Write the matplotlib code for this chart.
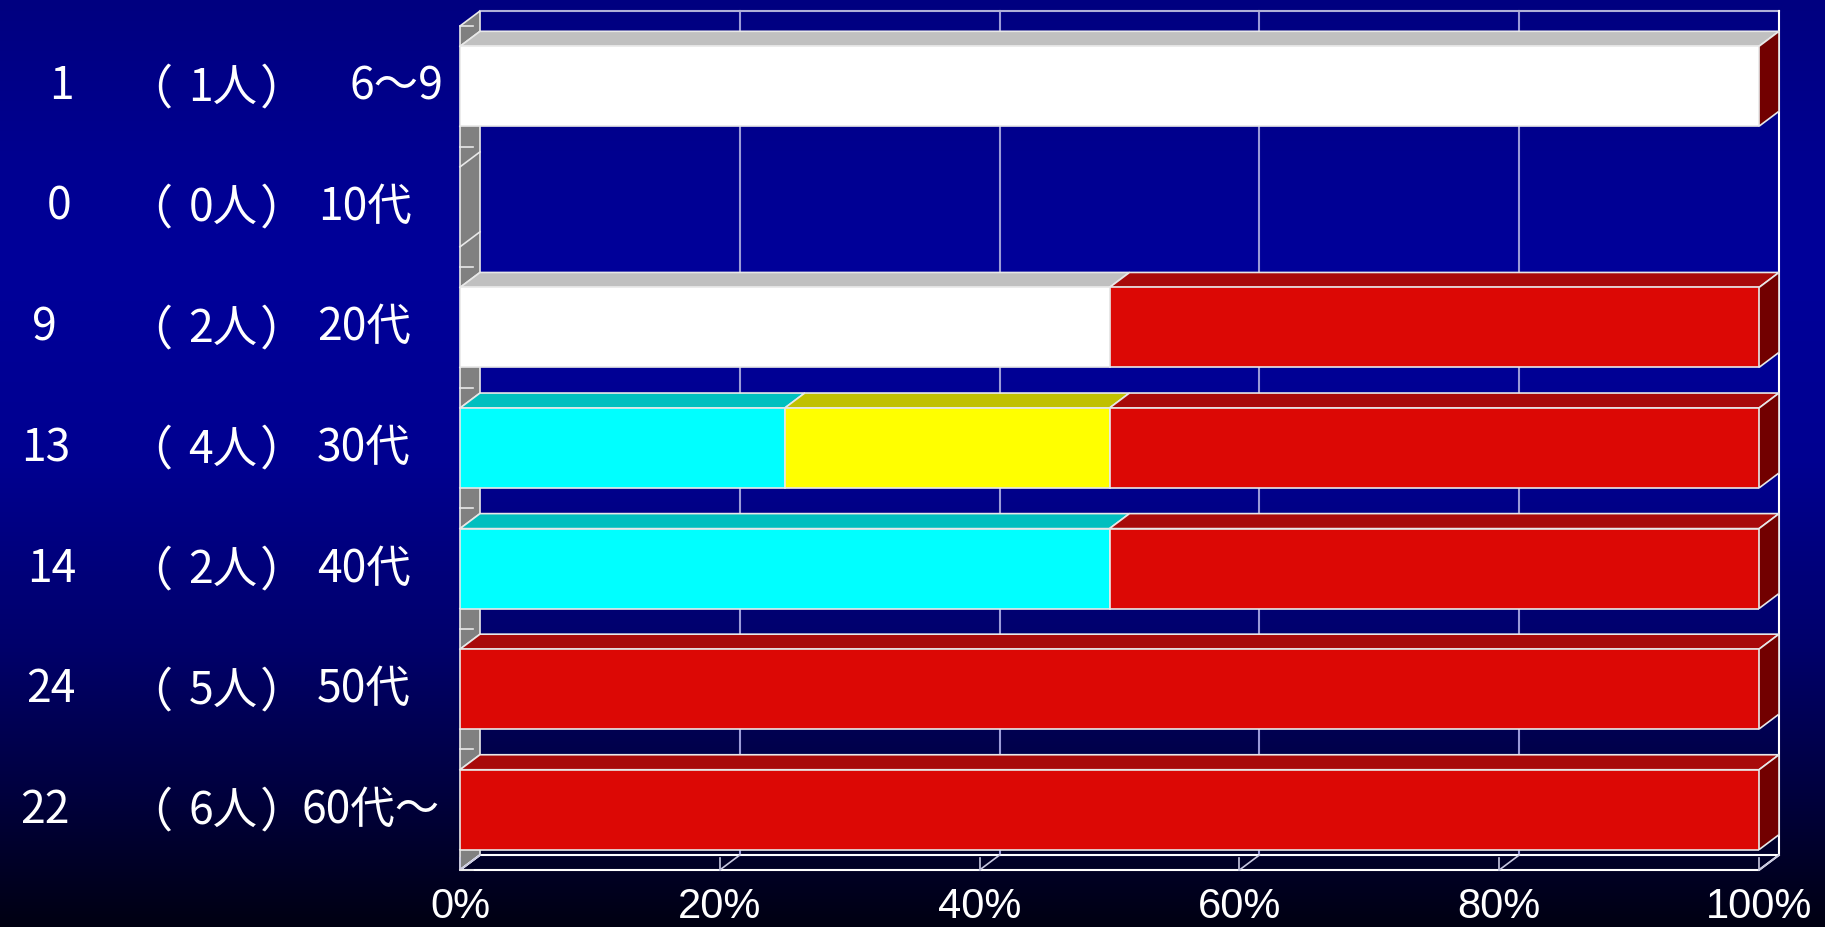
import numpy as np
import matplotlib
matplotlib.use("Agg")
import matplotlib.pyplot as plt
from matplotlib.patches import Polygon
import matplotlib.transforms as mtransforms

# ---------------- data ----------------
ages = ["6〜9", "10代", "20代", "30代", "40代", "50代", "60代〜"]
totals_label = [1, 0, 9, 13, 14, 24, 22]
# persons per answer category (stack order left -> right)
white_n = [1, 0, 1, 0, 0, 0, 0]
cyan_n = [0, 0, 0, 1, 1, 0, 0]
yellow_n = [0, 0, 0, 1, 0, 0, 0]
red_n = [0, 0, 1, 2, 1, 5, 6]
xticks = [0, 20, 40, 60, 80, 100]
xtick_labels = ["0%", "20%", "40%", "60%", "80%", "100%"]

series = [white_n, cyan_n, yellow_n, red_n]
front_cols = ["#FFFFFF", "#00FFFF", "#FFFF00", "#DC0805"]
top_cols = ["#C0C0C0", "#00BFBF", "#C0C000", "#A80A0A"]
side_col = "#720000"

W, H = 1825, 927
fig = plt.figure(figsize=(W / 100, H / 100), dpi=100)

# background gradient
bg = fig.add_axes([0, 0, 1, 1], zorder=-10)
stops_y = [0.0, 0.28, 0.5, 0.7, 0.85, 1.0]
stops_b = [0x80, 0x9A, 0x90, 0x6A, 0x40, 0x12]
yy = np.linspace(0, 1, 400)
b = np.interp(yy, stops_y, stops_b) / 255.0
img = np.zeros((400, 2, 3))
img[:, :, 2] = b[:, None]
bg.imshow(img, aspect="auto", extent=[0, 1, 1, 0], interpolation="bilinear")
bg.set_xlim(0, 1)
bg.set_ylim(1, 0)
bg.axis("off")

# main axes = front plane
x0p, x1p, y0p, y1p = 460, 1759, 26, 870
ax = fig.add_axes([x0p / W, (H - y1p) / H, (x1p - x0p) / W, (y1p - y0p) / H])
ax.patch.set_alpha(0)
n = len(ages)
ax.set_xlim(0, 100)
ax.set_ylim(n - 0.5, -0.5)
DX = 20 / (x1p - x0p) * 100
DY = 15 / (y1p - y0p) * n
BH = 0.663

grid_c = "#9A9AD8"
edge_c = "#E8E8E8"
kw = dict(clip_on=False)

# back wall gridlines
for v in xticks[1:-1]:
    ax.plot([v + DX, v + DX], [-0.5 - DY, n - 0.5 - DY], color=grid_c, lw=1.5, zorder=1, **kw)
# back wall outline
ax.plot([DX, 100 + DX], [-0.5 - DY, -0.5 - DY], color="#B0B0D8", lw=1.5, zorder=1, **kw)
ax.plot([100 + DX, 100 + DX], [-0.5 - DY, n - 0.5 - DY], color="white", lw=1.5, zorder=1, **kw)

# left wall
ax.add_patch(Polygon([(0, -0.5), (DX, -0.5 - DY), (DX, n - 0.5 - DY), (0, n - 0.5)],
                     closed=True, facecolor="#808080", edgecolor=edge_c, lw=1.2, zorder=2, **kw))
# category ticks on wall
for k in range(n + 1):
    yb = k - 0.5
    ax.plot([0, 1.0], [yb, yb], color=edge_c, lw=1.2, zorder=3, **kw)
# bar top/bottom edges on wall
for i in range(n):
    for yy_ in (i - BH / 2, i + BH / 2):
        ax.plot([0, DX], [yy_, yy_ - DY], color=edge_c, lw=1.2, zorder=3, **kw)

# floor
ax.add_patch(Polygon([(0, n - 0.5), (100, n - 0.5), (100 + DX, n - 0.5 - DY), (DX, n - 0.5 - DY)],
                     closed=True, facecolor="none", edgecolor="white", lw=1.5, zorder=2, **kw))
for v in xticks:
    ax.plot([v, v + DX], [n - 0.5, n - 0.5 - DY], color="#C8C8E0", lw=1.2, zorder=2, **kw)
    ax.plot([v, v], [n - 0.5, n - 0.5 - 0.1], color="#C8C8E0", lw=1.2, zorder=2, **kw)

# bars
totals = [sum(s[i] for s in series) for i in range(n)]
for i in range(n):
    left = 0.0
    yt = i - BH / 2
    yb = i + BH / 2
    if totals[i] == 0:
        continue
    for s, fc, tc in zip(series, front_cols, top_cols):
        w = s[i] / totals[i] * 100
        if w <= 0:
            continue
        ax.add_patch(Polygon([(left, yt), (left + w, yt), (left + w + DX, yt - DY), (left + DX, yt - DY)],
                             closed=True, facecolor=tc, edgecolor=edge_c, lw=1.2, zorder=5, **kw))
        ax.barh(i, w, left=left, height=BH, color=fc, edgecolor=edge_c, lw=1.2, zorder=6)
        left += w
    ax.add_patch(Polygon([(left, yt), (left + DX, yt - DY), (left + DX, yb - DY), (left, yb)],
                         closed=True, facecolor=side_col, edgecolor=edge_c, lw=1.2, zorder=5, **kw))

# axes decoration
for sp in ax.spines.values():
    sp.set_visible(False)
ax.set_yticks([])
ax.set_xticks(xticks)
ax.set_xticklabels(xtick_labels, fontfamily="Liberation Sans", fontsize=30, color="white")
ax.tick_params(axis="x", length=0, pad=12)

# left labels
jp = ["Noto Sans CJK JP", "DejaVu Sans"]
tr = mtransforms.blended_transform_factory(fig.transFigure, ax.transData)
num_x = [61, 59, 44, 46, 52, 51, 45]
age_x = [349, 318, 317, 317, 317, 317, 302]
fs = 32
for i in range(n):
    ax.text(num_x[i] / W, i, str(totals_label[i]), transform=tr, ha="center", va="center",
            fontsize=fs, color="white", family=jp)
    ax.text(149 / W, i + 0.03, "（", transform=tr, ha="center", va="center",
            fontsize=fs + 2, color="white", family=jp)
    ax.text(223 / W, i + 0.02, f"{totals[i]}人", transform=tr, ha="center", va="center",
            fontsize=fs, color="white", family=jp)
    ax.text(283 / W, i + 0.03, "）", transform=tr, ha="center", va="center",
            fontsize=fs + 2, color="white", family=jp)
    ax.text(age_x[i] / W, i, ages[i], transform=tr, ha="left", va="center",
            fontsize=fs, color="white", family=jp)

fig.savefig("out.png", dpi=100)
